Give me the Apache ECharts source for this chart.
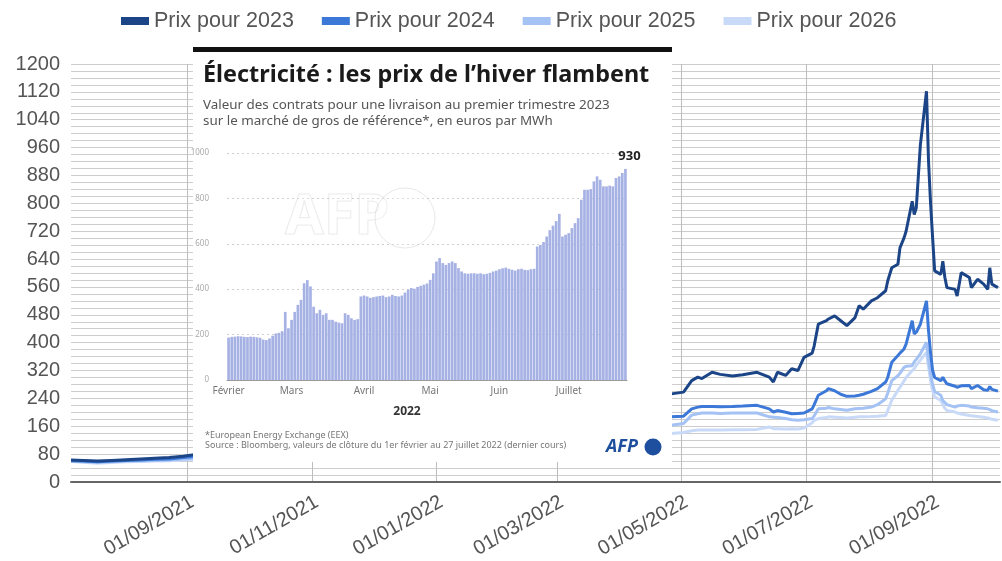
<!DOCTYPE html>
<html><head><meta charset="utf-8">
<script src="https://cdn.jsdelivr.net/npm/echarts@6/dist/echarts.min.js"></script>
<style>html,body{margin:0;padding:0;background:#fff}#c{width:1002px;height:561px}</style>
</head><body><div id="c"></div>
<script>
// ---------- main chart data ----------
const seriesNames = ['Prix pour 2023', 'Prix pour 2024', 'Prix pour 2025', 'Prix pour 2026'];
const seriesColors = ['#1c4587', '#3c78d8', '#a4c2f4', '#c9daf8'];
const dates = [
  '2021-07-06','2021-07-12','2021-07-19','2021-07-26','2021-08-02','2021-08-09','2021-08-16','2021-08-23','2021-08-30',
  '2021-09-06','2021-09-13','2021-09-20','2021-09-27','2021-10-04','2021-10-11','2021-10-18','2021-10-25',
  '2021-11-01','2021-11-08','2021-11-15','2021-11-22','2021-11-29','2021-12-06','2021-12-13','2021-12-20','2021-12-27',
  '2022-01-03','2022-01-10','2022-01-17','2022-01-24','2022-01-31','2022-02-07','2022-02-14','2022-02-21','2022-02-28',
  '2022-03-07','2022-03-14','2022-03-21','2022-03-28','2022-04-04','2022-04-11','2022-04-18',
  '2022-04-26','2022-05-02','2022-05-06','2022-05-09','2022-05-11','2022-05-16','2022-05-20','2022-05-26','2022-05-31',
  '2022-06-07','2022-06-13','2022-06-15','2022-06-17','2022-06-21','2022-06-24','2022-06-27','2022-06-30',
  '2022-07-04','2022-07-05','2022-07-07','2022-07-11','2022-07-12','2022-07-15','2022-07-18','2022-07-21','2022-07-25','2022-07-27','2022-07-29',
  '2022-08-02','2022-08-05','2022-08-09','2022-08-10','2022-08-12','2022-08-15','2022-08-16','2022-08-18','2022-08-19',
  '2022-08-22','2022-08-23','2022-08-24','2022-08-26','2022-08-29','2022-08-30','2022-08-31',
  '2022-09-01','2022-09-02','2022-09-05','2022-09-06','2022-09-07','2022-09-08','2022-09-12','2022-09-13','2022-09-15',
  '2022-09-19','2022-09-20','2022-09-23','2022-09-26','2022-09-28','2022-09-29','2022-09-30','2022-10-03'
];
const prix2023 = [
  63,62,60,62,64,66,68,70,74,
  80,88,95,105,120,135,125,130,128,135,145,160,170,190,230,300,240,210,200,195,185,180,185,180,190,230,380,290,260,240,255,250,255,
  253,258,291,301,297,315,309,304,308,315,301,287,315,306,325,320,358,370,391,453,463,468,477,463,449,472,506,496,
  520,529,549,577,615,625,672,701,720,806,768,787,968,1122,920,800,701,606,596,634,587,558,553,534,601,587,558,582,568,553,615,568,558
];
const prix2024 = [
  61,60,58,60,62,63,65,66,70,
  74,78,82,88,95,102,98,100,100,104,110,118,124,132,150,180,158,145,140,138,134,132,135,134,140,160,230,190,178,172,182,180,185,
  187,189,210,215,217,217,216,217,218,220,210,201,205,200,196,197,198,210,222,249,262,268,262,252,246,247,249,252,
  260,268,287,300,344,363,370,382,396,463,425,430,453,520,434,370,320,300,291,301,290,282,275,272,276,277,268,277,265,263,274,266,261
];
const prix2025 = [
  60,58,56,58,60,61,62,63,66,
  69,72,75,80,85,90,88,90,90,93,97,103,107,113,125,145,132,124,120,118,116,115,117,117,122,138,190,160,152,150,158,158,162,
  163,168,192,196,198,198,197,198,198,198,187,186,185,182,179,177,179,182,190,210,212,214,210,208,206,210,211,212,
  215,222,239,255,291,305,312,329,332,334,345,352,368,401,350,311,280,260,249,234,228,222,215,218,220,218,215,213,212,210,208,205,201
];
const prix2026 = [
  59,57,54,56,58,59,60,61,63,
  66,68,70,74,78,82,80,82,82,84,87,92,95,100,110,125,115,108,105,104,103,102,104,104,108,120,160,138,132,130,136,136,140,
  139,142,147,149,149,149,149,150,150,151,158,153,153,152,153,152,155,170,177,182,185,187,186,185,184,186,187,187,
  188,189,191,205,235,263,272,290,300,320,325,335,350,372,330,291,262,245,234,222,212,205,201,198,195,191,190,188,186,184,182,180,177
];
const xTickDates = ['2021-09-01','2021-11-01','2022-01-01','2022-03-01','2022-05-01','2022-07-01','2022-09-01'];
const xRange = ['2021-07-06', '2022-10-04'];

// ---------- inset (AFP graphic) data ----------
const insetRange = ['2022-02-01', '2022-07-27'];
const insetMonths = ['Janvier','Février','Mars','Avril','Mai','Juin','Juillet','Août','Septembre','Octobre','Novembre','Décembre'];
const insetValues = [
  187,190,191,193,192,190,189,191,190,188,186,178,176,183,195,205,208,215,300,228,
  265,300,331,353,426,440,412,323,294,309,287,294,265,265,257,253,250,294,287,272,265,268,368,
  372,368,362,365,368,370,372,365,368,375,370,368,372,385,398,405,402,410,415,420,425,
  441,470,522,537,515,507,515,522,515,493,478,470,468,470,470,468,470,466,468,472,478,482,
  488,492,495,490,486,482,488,490,485,484,488,490,588,595,608,632,660,680,700,732,632,640,
  647,669,691,713,794,838,838,841,875,897,882,853,853,856,853,890,897,912,930
];
const insetTitle = 'Électricité : les prix de l’hiver flambent';
const insetSub1 = 'Valeur des contrats pour une livraison au premier trimestre 2023';
const insetSub2 = 'sur le marché de gros de référence*, en euros par MWh';
const insetNote1 = '*European Energy Exchange (EEX)';
const insetNote2 = 'Source : Bloomberg, valeurs de clôture du 1er février au 27 juillet 2022 (dernier cours)';

// ---------- helpers ----------
function ts(s) { const p = s.split('-').map(Number); return new Date(p[0], p[1]-1, p[2]).getTime(); }
function pad(n) { return (n < 10 ? '0' : '') + n; }
function fmtDate(v) { const d = new Date(v); return pad(d.getDate()) + '/' + pad(d.getMonth()+1) + '/' + d.getFullYear(); }
function businessDays(a, b) {
  const out = []; const d = new Date(ts(a)); const end = ts(b);
  while (d.getTime() <= end) { const w = d.getDay(); if (w !== 0 && w !== 6) out.push(d.getFullYear() + '-' + pad(d.getMonth()+1) + '-' + pad(d.getDate())); d.setDate(d.getDate()+1); }
  return out;
}
const insetDates = businessDays(insetRange[0], insetRange[1]);
const monthStart = new Set();
insetDates.forEach((d, i) => { if (i === 0 || d.slice(5,7) !== insetDates[i-1].slice(5,7)) monthStart.add(i); });
const xTicks = xTickDates.map(ts);
const allPrix = [prix2023, prix2024, prix2025, prix2026];

const mainFont = 'Liberation Sans';
const afpFont = 'Noto Sans';
const gridGrey = '#cdcdcd';

const option = {
  animation: false,
  backgroundColor: '#fff',
  legend: {
    data: seriesNames, top: 5, left: 116, icon: 'rect', itemWidth: 28, itemHeight: 8, itemGap: 28,
    textStyle: { fontSize: 21.5, color: '#555', fontFamily: mainFont }
  },
  grid: [
    { left: 71, right: 2, top: 64, bottom: 79, outerBoundsMode: 'none' },
    { left: 227, right: 375, top: 153, bottom: 181, outerBoundsMode: 'none', z: 12 }
  ],
  xAxis: [
    {
      type: 'value', gridIndex: 0, min: ts(xRange[0]), max: ts(xRange[1]),
      axisLine: { lineStyle: { color: '#666', width: 2 } },
      axisTick: { show: false, customValues: xTicks },
      axisLabel: { customValues: xTicks, rotate: 30, fontSize: 20, color: '#555', fontFamily: mainFont, margin: 10, verticalAlign: 'top', formatter: fmtDate, hideOverlap: false },
      splitLine: { show: true, lineStyle: { color: '#bdbdbd', width: 1 } }
    },
    {
      type: 'category', gridIndex: 1, data: insetDates, z: 12,
      axisLine: { lineStyle: { color: '#9a9a9a', width: 1 } },
      axisTick: { interval: (i) => monthStart.has(i), length: 4, lineStyle: { color: '#9a9a9a' } },
      axisLabel: { interval: (i) => monthStart.has(i), formatter: (v) => insetMonths[Number(v.slice(5,7)) - 1], fontSize: 10, color: '#777', fontFamily: afpFont, margin: 6 },
      splitLine: { show: false }
    }
  ],
  yAxis: [
    {
      type: 'value', gridIndex: 0, min: 0, max: 1200, interval: 80,
      axisLine: { show: false }, axisTick: { show: false },
      axisLabel: { fontSize: 20, color: '#555', fontFamily: mainFont, margin: 11, formatter: (v) => String(v) },
      splitLine: { lineStyle: { color: gridGrey, width: 1.2 } },
      minorTick: { show: false, splitNumber: 4 },
      minorSplitLine: { show: true, lineStyle: { color: gridGrey, width: 1.2 } }
    },
    {
      type: 'value', gridIndex: 1, min: 0, max: 1000, interval: 200, z: 12,
      axisLine: { show: false }, axisTick: { show: false },
      axisLabel: { fontSize: 8, color: '#aaa', fontFamily: afpFont, margin: 18, formatter: (v) => String(v) },
      splitLine: { lineStyle: { color: '#cfcfcf', width: 1, type: [2, 3] } }
    }
  ],
  graphic: {
    elements: [
      { type: 'rect', z: 10, shape: { x: 193, y: 50, width: 479, height: 412 }, style: { fill: '#fff' }, silent: true },
      { type: 'rect', z: 11, shape: { x: 193, y: 47, width: 479, height: 5 }, style: { fill: '#111' }, silent: true },
      { type: 'text', z: 20, x: 203, y: 75, style: { text: insetTitle, font: 'bold 23.4px "Noto Sans"', fill: '#1a1a1a', verticalAlign: 'middle' }, silent: true },
      { type: 'text', z: 20, x: 203, y: 105, style: { text: insetSub1, font: '13.4px "Noto Sans"', fill: '#555', verticalAlign: 'middle' }, silent: true },
      { type: 'text', z: 20, x: 203, y: 121, style: { text: insetSub2, font: '13.4px "Noto Sans"', fill: '#555', verticalAlign: 'middle' }, silent: true },
      { type: 'text', z: 20, x: 285, y: 218, style: { text: 'AFP', font: 'bold 56px "Noto Sans"', fill: 'rgba(255,255,255,0.25)', stroke: 'rgba(190,190,190,0.35)', lineWidth: 1, verticalAlign: 'middle' }, silent: true },
      { type: 'circle', z: 20, shape: { cx: 405, cy: 218, r: 30 }, style: { fill: 'rgba(255,255,255,0.25)', stroke: 'rgba(190,190,190,0.35)', lineWidth: 1 }, silent: true },
      { type: 'text', z: 20, x: 407, y: 412, style: { text: '2022', font: 'bold 12px "Noto Sans"', fill: '#333', align: 'center', verticalAlign: 'middle' }, silent: true },
      { type: 'text', z: 20, x: 205, y: 435, style: { text: insetNote1, font: '9px "Noto Sans"', fill: '#777', verticalAlign: 'middle' }, silent: true },
      { type: 'text', z: 20, x: 205, y: 445, style: { text: insetNote2, font: '9px "Noto Sans"', fill: '#777', verticalAlign: 'middle' }, silent: true },
      { type: 'text', z: 20, x: 606, y: 447, style: { text: 'AFP', font: 'italic bold 18px "Noto Sans"', fill: '#1d4f9e', verticalAlign: 'middle' }, silent: true },
      { type: 'circle', z: 20, shape: { cx: 653, cy: 447, r: 8.5 }, style: { fill: '#1d4f9e' }, silent: true }
    ]
  },
  series: allPrix.map((arr, k) => ({
    name: seriesNames[k], type: 'line', xAxisIndex: 0, yAxisIndex: 0,
    data: dates.map((d, i) => [ts(d), arr[i]]),
    showSymbol: false, symbol: 'none', z: 2 + (3 - k) * 0.1,
    lineStyle: { width: 3, color: seriesColors[k] }, itemStyle: { color: seriesColors[k] }
  })).concat([{
    name: 'inset', type: 'bar', xAxisIndex: 1, yAxisIndex: 1, z: 12, silent: true,
    barCategoryGap: '15%', itemStyle: { color: '#a6b1e4' },
    data: insetValues.map((v, i) => i === insetValues.length - 1 ? {
      value: v, label: { show: true, position: 'top', formatter: '930', fontWeight: 'bold', fontSize: 13, color: '#222', fontFamily: afpFont, offset: [4, -1] }
    } : v)
  }])
};
const chart = echarts.init(document.getElementById('c'), null, { renderer: 'canvas' });
chart.setOption(option);
</script></body></html>
